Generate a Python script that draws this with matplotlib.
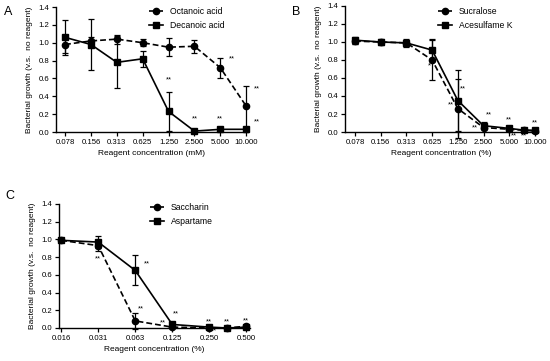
import numpy as np
import matplotlib
matplotlib.use("Agg")
import matplotlib.pyplot as plt
from matplotlib.lines import Line2D

plt.rcParams['font.family'] = ['Liberation Sans', 'DejaVu Sans']

# ---- panel A data (mM) ----
conc_a = [0.078125, 0.15625, 0.3125, 0.625, 1.25, 2.5, 5.0, 10.0]
ticks_a = ['0.078', '0.156', '0.313', '0.625', '1.250', '2.500', '5.000', '10.000']
octanoic = [0.98, 1.02, 1.04, 1.00, 0.95, 0.96, 0.72, 0.29]
octanoic_err = [0.10, 0.04, 0.05, 0.04, 0.10, 0.07, 0.11, 0.23]
decanoic = [1.06, 0.98, 0.78, 0.82, 0.23, 0.01, 0.03, 0.03]
decanoic_err = [0.20, 0.29, 0.29, 0.09, 0.22, 0.01, 0.01, 0.01]
stars_a = [(1.25, 0.58, '**'), (2.5, 0.15, '**'), (5.0, 0.15, '**'),
           (6.8, 0.82, '**'), (13.3, 0.48, '**'), (13.3, 0.11, '**')]

# ---- panel B data (%) ----
conc_b = [0.078125, 0.15625, 0.3125, 0.625, 1.25, 2.5, 5.0, 7.5, 10.0]
ticks_b = ['0.078', '0.156', '0.313', '0.625', '1.250', '2.500', '5.000', '10.000']
sucralose = [1.01, 1.00, 0.99, 0.80, 0.26, 0.05, 0.03, 0.02, 0.01]
sucralose_err = [0.03, 0.02, 0.03, 0.22, 0.33, 0.02, 0.02, 0.01, 0.01]
acesulfame = [1.02, 1.00, 0.99, 0.91, 0.35, 0.07, 0.04, 0.02, 0.02]
acesulfame_err = [0.04, 0.03, 0.04, 0.12, 0.34, 0.04, 0.03, 0.01, 0.01]
stars_b = [(0.58, 0.74, '*'), (1.45, 0.48, '**'), (1.05, 0.30, '**'),
           (2.0, 0.05, '**'), (2.9, 0.19, '**'), (5.0, 0.14, '**'),
           (5.6, -0.04, '**'), (7.5, -0.04, '**'), (10.0, 0.10, '**')]

# ---- panel C data (%) ----
conc_c = [0.015625, 0.03125, 0.0625, 0.125, 0.25, 0.35, 0.5]
ticks_c = ['0.016', '0.031', '0.063', '0.125', '0.250', '0.500']
saccharin = [0.99, 0.93, 0.08, 0.01, 0.00, 0.00, 0.02]
saccharin_err = [0.02, 0.06, 0.09, 0.01, 0.01, 0.01, 0.01]
aspartame = [0.99, 0.97, 0.65, 0.04, 0.01, 0.00, 0.01]
aspartame_err = [0.02, 0.07, 0.17, 0.02, 0.01, 0.01, 0.01]
stars_c = [(0.031, 0.78, '**'), (0.078, 0.72, '**'), (0.069, 0.22, '**'),
           (0.105, 0.06, '**'), (0.135, 0.16, '**'), (0.25, 0.07, '**'),
           (0.275, -0.035, '**'), (0.35, 0.07, '**'), (0.5, 0.08, '**')]

W, H = 550, 361
fig = plt.figure(figsize=(5.5, 3.61), dpi=100)

DASH = (0, (3.5, 1.8))
MS = 4.5


def make_axes(px_left, px_right, px_top, px_bottom):
    return fig.add_axes([px_left / W, 1 - px_bottom / H,
                         (px_right - px_left) / W, (px_bottom - px_top) / H])


def draw_panel(ax, conc, s1, e1, s2, e2, names, ticklabels, xlim, xlabel, stars, letter, leg_pos):
    ax.set_xscale('log', base=2)
    ax.errorbar(conc, s1, yerr=e1, color='black', lw=1.2, ls=DASH, marker='o', ms=MS,
                capsize=2.5, elinewidth=0.9, capthick=0.9, clip_on=False, zorder=3)
    ax.errorbar(conc, s2, yerr=e2, color='black', lw=1.2, ls='-', marker='s', ms=MS,
                capsize=2.5, elinewidth=0.9, capthick=0.9, clip_on=False, zorder=3)
    tick_pos = [conc[0] * 2 ** k for k in range(len(ticklabels))]
    ax.set_xticks(tick_pos)
    ax.set_xticklabels(ticklabels)
    ax.minorticks_off()
    ax.set_xlim(*xlim)
    ax.set_ylim(0, 1.4)
    ax.set_yticks(np.arange(0, 1.41, 0.2))
    ax.set_yticklabels(['%.1f' % v for v in np.arange(0, 1.41, 0.2)])
    for sp in ['top', 'right']:
        ax.spines[sp].set_visible(False)
    for sp in ['left', 'bottom']:
        ax.spines[sp].set_linewidth(1.0)
    ax.tick_params(axis='both', direction='out', length=3, width=0.9, labelsize=5.6, pad=2)
    ax.set_xlabel(xlabel, fontsize=6, labelpad=3)
    ax.set_ylabel('Bacterial growth (v.s.  no reagent)', fontsize=6, labelpad=4)
    for x, y, s in stars:
        ax.text(x, y, s, fontsize=5.5, ha='center', va='center', clip_on=False)
    ax.text(letter[0], letter[1], letter[2], transform=fig.transFigure, fontsize=9,
            ha='left', va='center')
    handles = [Line2D([], [], color='black', lw=1.2, ls=DASH, marker='o', ms=MS),
               Line2D([], [], color='black', lw=1.2, ls='-', marker='s', ms=MS)]
    ax.legend(handles, names, loc='upper left', bbox_to_anchor=leg_pos,
              bbox_transform=fig.transFigure, frameon=False, fontsize=6.2,
              handlelength=1.6, handletextpad=0.8, labelspacing=0.55, borderpad=0)


ax_a = make_axes(56, 248, 7, 132)
draw_panel(ax_a, conc_a, octanoic, octanoic_err, decanoic, decanoic_err,
           ['Octanoic acid', 'Decanoic acid'], ticks_a,
           (0.078125 * 2 ** -0.35, 0.078125 * 2 ** 7.07),
           'Reagent concentration (mM)', stars_a, (4 / W, 1 - 12 / H, 'A'),
           (145 / W, 1 - 3 / H))

ax_b = make_axes(345, 538, 6, 132)
draw_panel(ax_b, conc_b, sucralose, sucralose_err, acesulfame, acesulfame_err,
           ['Sucralose', 'Acesulfame K'], ticks_b,
           (0.078125 * 2 ** -0.39, 0.078125 * 2 ** 7.12),
           'Reagent concentration (%)', stars_b, (292 / W, 1 - 12 / H, 'B'),
           (434 / W, 1 - 3 / H))

ax_c = make_axes(59, 250, 204, 328)
draw_panel(ax_c, conc_c, saccharin, saccharin_err, aspartame, aspartame_err,
           ['Saccharin', 'Aspartame'], ticks_c,
           (0.015625 * 2 ** -0.06, 0.015625 * 2 ** 5.1),
           'Reagent concentration (%)', stars_c, (5 / W, 1 - 196 / H, 'C'),
           (146 / W, 1 - 199 / H))

fig.savefig('out.png', dpi=100)
